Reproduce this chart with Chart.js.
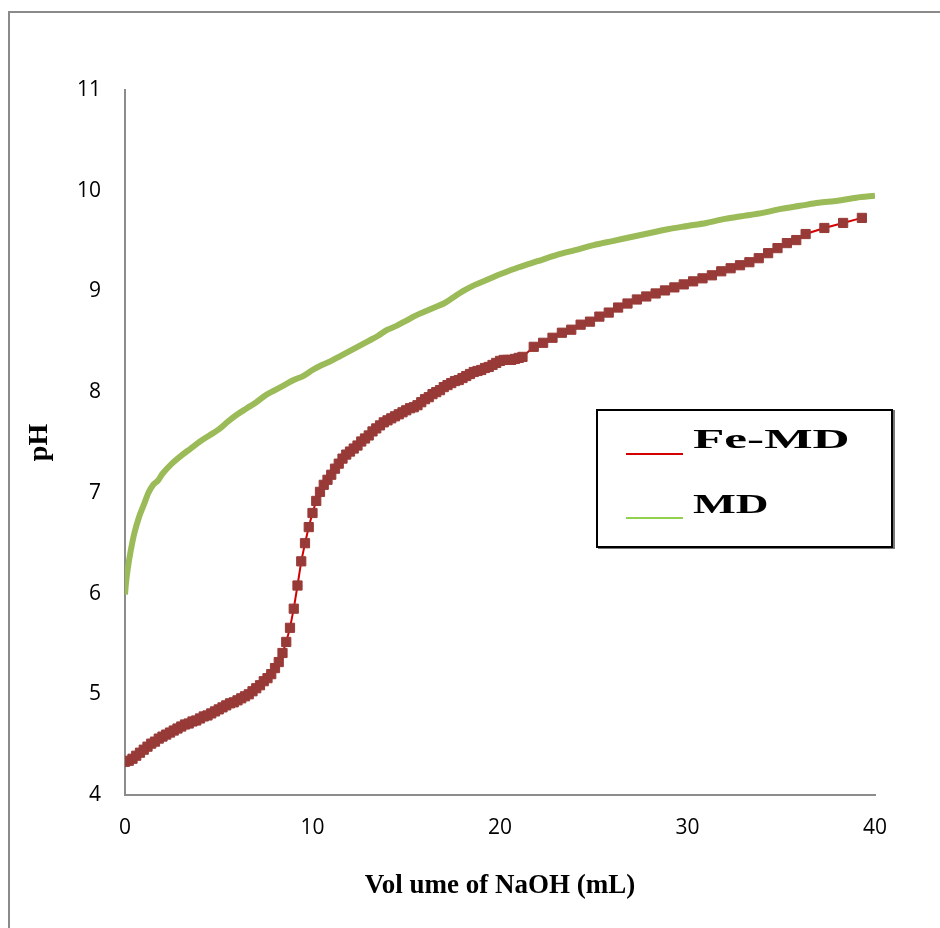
<!DOCTYPE html>
<html>
<head>
<meta charset="utf-8">
<script src="https://cdn.jsdelivr.net/npm/chart.js@4/dist/chart.umd.min.js"></script>
<style>
    body { margin: 0; background: #fff; }
    #wrap { position: relative; width: 940px; height: 928px; }
    #legend {
        position: absolute; left: 596px; top: 409px; width: 293px; height: 135px;
        border: 2px solid #000; box-shadow: 2px 1px 0 #777; background: #fff;
        font-family: 'Liberation Serif', 'Times New Roman', serif; font-weight: bold; color: #000;
    }
    .item { position: absolute; left: 0; }
    .item .ln { position: absolute; left: 28px; width: 57px; height: 2px; }
    .item .tx { position: absolute; left: 95px; font-size: 27px; line-height: 27px; white-space: nowrap;
        transform-origin: left center; }
</style>
</head>
<body>
<div id="wrap">
    <canvas id="chart" width="940" height="928"></canvas>
    <div id="legend">
        <div class="item" style="top:0">
            <div class="ln" style="top:42px;background:#d40000"></div>
            <div class="tx" style="top:15px;transform:scaleX(1.9)">Fe-MD</div>
        </div>
        <div class="item" style="top:0">
            <div class="ln" style="top:106px;background:#92d050"></div>
            <div class="tx" style="top:80px;transform:scaleX(1.68)">MD</div>
        </div>
    </div>
</div>
<script>
// axis ticks
const xTicks = [0, 10, 20, 30, 40];
const yTicks = [4, 5, 6, 7, 8, 9, 10, 11];

// Fe-MD titration (volume NaOH in mL, pH)
const feVolume = [
    0, 0.2, 0.4, 0.6, 0.8, 1, 1.2, 1.4, 1.6, 1.8, 2, 2.2, 2.4, 2.6, 2.8,
    3, 3.2, 3.4, 3.6, 3.8, 4, 4.2, 4.4, 4.6, 4.8, 5, 5.2, 5.4, 5.6, 5.8,
    6, 6.2, 6.4, 6.6, 6.8, 7, 7.2, 7.4, 7.6, 7.8, 8, 8.2, 8.4, 8.6, 8.8,
    9, 9.2, 9.4, 9.6, 9.8, 10, 10.2, 10.4, 10.6, 10.8, 11, 11.2, 11.4, 11.6, 11.8,
    12, 12.2, 12.4, 12.6, 12.8, 13, 13.2, 13.4, 13.6, 13.8, 14, 14.2, 14.4, 14.6, 14.8,
    15, 15.2, 15.4, 15.6, 15.8, 16, 16.2, 16.4, 16.6, 16.8, 17, 17.2, 17.4, 17.6, 17.8,
    18, 18.2, 18.4, 18.6, 18.8, 19, 19.2, 19.4, 19.6, 19.8, 20, 20.2, 20.4, 20.6, 20.8,
    21, 21.2,
    21.8, 22.3, 22.8, 23.3, 23.8, 24.3, 24.8, 25.3, 25.8, 26.3, 26.8, 27.3, 27.8, 28.3, 28.8,
    29.3, 29.8, 30.3, 30.8, 31.3, 31.8, 32.3, 32.8, 33.3, 33.8, 34.3, 34.8, 35.3, 35.8, 36.3,
    37.3, 38.3, 39.3
];
const fePH = [
    4.33, 4.34, 4.36, 4.39, 4.42, 4.45, 4.48, 4.51, 4.53, 4.56, 4.58, 4.60, 4.62, 4.64, 4.66,
    4.68, 4.70, 4.71, 4.73, 4.74, 4.76, 4.78, 4.79, 4.81, 4.83, 4.85, 4.87, 4.89, 4.91, 4.92,
    4.94, 4.96, 4.98, 5.00, 5.03, 5.06, 5.09, 5.13, 5.16, 5.20, 5.26, 5.32, 5.41, 5.52, 5.66,
    5.85, 6.08, 6.32, 6.50, 6.66, 6.80, 6.92, 7.01, 7.08, 7.13, 7.18, 7.24, 7.29, 7.34, 7.38,
    7.41, 7.44, 7.47, 7.51, 7.54, 7.57, 7.61, 7.64, 7.67, 7.70, 7.72, 7.74, 7.76, 7.78, 7.80,
    7.82, 7.84, 7.85, 7.87, 7.90, 7.93, 7.95, 7.98, 8.00, 8.02, 8.05, 8.07, 8.09, 8.11, 8.12,
    8.14, 8.16, 8.18, 8.20, 8.21, 8.22, 8.24, 8.25, 8.27, 8.29, 8.31, 8.32, 8.32, 8.32, 8.33,
    8.34, 8.35,
    8.45, 8.49, 8.54, 8.59, 8.62, 8.67, 8.70, 8.75, 8.79, 8.84, 8.88, 8.92, 8.95, 8.98, 9.01,
    9.04, 9.07, 9.10, 9.13, 9.16, 9.20, 9.23, 9.26, 9.29, 9.33, 9.38, 9.43, 9.48, 9.51, 9.57,
    9.63, 9.68, 9.73
];

// MD titration
const mdVolume = [
    0, 0.05, 0.15, 0.3, 0.5, 0.75, 1, 1.25, 1.5, 1.75, 2, 2.5, 3, 3.5, 4, 4.5,
    5, 5.5, 6, 6.5, 7, 7.5, 8, 8.5, 9, 9.5, 10, 10.5, 11, 11.5, 12, 12.5,
    13, 13.5, 14, 14.5, 15, 15.5, 16, 16.5, 17, 17.5, 18, 18.5, 19, 19.5, 20,
    21, 22, 23, 24, 25, 26, 27, 28, 29, 30, 31, 32, 33, 34, 35, 36, 37, 38, 39, 40
];
const mdPH = [
    5.99, 6.10, 6.25, 6.42, 6.60, 6.76, 6.88, 7.00, 7.08, 7.12, 7.19, 7.29, 7.37, 7.44, 7.51, 7.57,
    7.63, 7.71, 7.78, 7.84, 7.90, 7.97, 8.02, 8.07, 8.12, 8.16, 8.22, 8.27, 8.31, 8.36, 8.41, 8.46,
    8.51, 8.56, 8.62, 8.66, 8.71, 8.76, 8.80, 8.84, 8.88, 8.94, 9.00, 9.05, 9.09, 9.13, 9.17,
    9.24, 9.30, 9.36, 9.41, 9.46, 9.50, 9.54, 9.58, 9.62, 9.65, 9.68, 9.72, 9.75, 9.78, 9.82, 9.85, 9.88, 9.90, 9.93, 9.95
];

function toPoints(xs, ys) {
    return xs.map((x, i) => ({ x: x, y: ys[i] }));
}

// grey outer frame of the figure
const framePlugin = {
    id: 'frame',
    beforeDraw(chart) {
        const ctx = chart.ctx;
        ctx.save();
        ctx.fillStyle = '#fff';
        ctx.fillRect(0, 0, chart.width, chart.height);
        ctx.strokeStyle = '#8a8a8a';
        ctx.lineWidth = 2;
        ctx.strokeRect(9, 12, 1000, 1000);
        ctx.restore();
    }
};

const serif = "'Liberation Serif', 'Times New Roman', serif";
const sans = "'Open Sans', 'Liberation Sans', sans-serif";

new Chart(document.getElementById('chart'), {
    type: 'line',
    data: {
        datasets: [{
            label: 'Fe-MD',
            data: toPoints(feVolume, fePH),
            borderColor: '#d40000',
            borderWidth: 2,
            pointStyle: 'rect',
            pointRadius: 6.5,
            pointBackgroundColor: '#983a37',
            pointBorderColor: '#983a37',
            pointBorderWidth: 1,
            tension: 0
        }, {
            label: 'MD',
            data: toPoints(mdVolume, mdPH),
            borderColor: '#9bbb59',
            borderWidth: 6,
            pointRadius: 0,
            tension: 0.3
        }]
    },
    options: {
        responsive: false,
        animation: false,
        layout: { padding: { top: 90, right: 65, left: 0, bottom: 0 } },
        plugins: { legend: { display: false }, tooltip: { enabled: false } },
        scales: {
            x: {
                type: 'linear', min: 0, max: 40,
                afterBuildTicks: s => { s.ticks = xTicks.map(v => ({ value: v })); },
                afterFit: s => { s.height = 133; },
                grid: { display: false, drawTicks: false },
                border: { display: true, color: '#8c8c8c', width: 2 },
                ticks: { padding: 20, color: '#000', font: { family: sans, size: 21 } },
                title: { display: true, text: 'Vol ume of NaOH (mL)', color: '#000',
                    font: { family: serif, size: 27, weight: 'bold' }, padding: { top: 0, bottom: 26 } }
            },
            y: {
                type: 'linear', min: 4, max: 11,
                afterBuildTicks: s => { s.ticks = yTicks.map(v => ({ value: v })); },
                afterFit: s => { s.width = 125; },
                grid: { display: false, drawTicks: false },
                border: { display: true, color: '#8c8c8c', width: 2 },
                ticks: { padding: 24, color: '#000', font: { family: sans, size: 21 } },
                title: { display: true, text: 'pH', color: '#000',
                    font: { family: serif, size: 28, weight: 'bold' }, padding: { top: 23, bottom: 0 } }
            }
        }
    },
    plugins: [framePlugin]
});
</script>
</body>
</html>
